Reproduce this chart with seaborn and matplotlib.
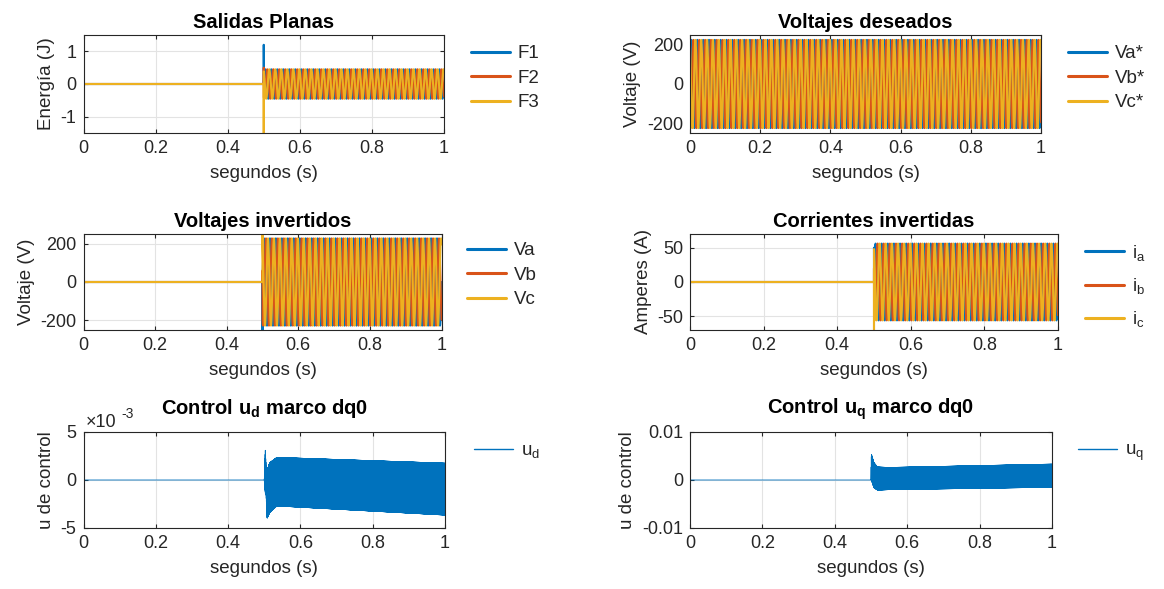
import numpy as np
import pandas as pd
import matplotlib
matplotlib.use("Agg")
import matplotlib.pyplot as plt
import seaborn as sns

# ---------------- simulation summary ----------------
FS = 20000            # samples per second
T_END = 1.0           # simulated time (s)
T_ON = 0.5            # inverter switched on (s)
F_GRID = 60.0         # grid frequency (Hz)
PHASES_DEG = [0.0, -120.0, 120.0]

# flat outputs
FLAT_NAMES = ["F1", "F2", "F3"]
FLAT_AMP = 0.45
FLAT_SPIKE = [1.2, 0.5, -1.5]

# reference voltages
VREF_NAMES = ["Va*", "Vb*", "Vc*"]
VREF_AMP = 225.0

# inverter voltages
VINV_NAMES = ["Va", "Vb", "Vc"]
VINV_AMP = 227.0
VINV_SPIKE = [-260.0, 60.0, 260.0]

# inverter currents
I_NAMES = [r"i$_a$", r"i$_b$", r"i$_c$"]
I_AMP = 56.0
I_SPIKE = [50.0, 20.0, -75.0]

# dq0 control signals: ripple envelope (time, upper, lower)
U_RIPPLE_HZ = 2500.0
UD_T = [0.500, 0.503, 0.505, 0.508, 0.515, 0.535, 1.000]
UD_TOP = [0.0, 3.2e-3, 1.4e-3, 1.0e-3, 1.8e-3, 2.35e-3, 1.75e-3]
UD_BOT = [0.0, -1.4e-3, -1.5e-3, -4.0e-3, -3.4e-3, -2.7e-3, -3.65e-3]
UQ_T = [0.500, 0.501, 0.508, 0.518, 0.550, 1.000]
UQ_TOP = [0.0, 5.4e-3, 3.6e-3, 2.7e-3, 2.6e-3, 3.3e-3]
UQ_BOT = [0.0, 0.0, -1.6e-3, -2.1e-3, -2.0e-3, -1.5e-3]

X_TICKS = [0, 0.2, 0.4, 0.6, 0.8, 1.0]
X_TICKLABELS = ["0", "0.2", "0.4", "0.6", "0.8", "1"]

BLUE, ORANGE, YELLOW = "#0072BD", "#D95319", "#EDB120"
INK = "#262626"

# ---------------- signals ----------------
t = np.arange(int(T_END * FS) + 1) / FS
i_on = int(np.argmax(t >= T_ON))


def three_phase(amp, spikes=None):
    out = []
    for k, ph in enumerate(PHASES_DEG):
        y = amp * np.sin(2 * np.pi * F_GRID * t + np.deg2rad(ph))
        if spikes is not None:
            y = np.where(t > T_ON, y, 0.0)
            y[i_on] = spikes[k]
        out.append(y)
    return out


def ripple(env_t, top, bot):
    hi = np.interp(t, env_t, top)
    lo = np.interp(t, env_t, bot)
    y = (hi + lo) / 2 + (hi - lo) / 2 * np.sin(2 * np.pi * U_RIPPLE_HZ * t)
    y[t < T_ON] = 0.0
    return y


def long_form(names, series):
    return pd.DataFrame({
        "t": np.tile(t, len(series)),
        "v": np.concatenate(series),
        "serie": np.repeat(names, len(t)),
    })


# ---------------- style ----------------
sns.set_theme(style="whitegrid", rc={
    "axes.edgecolor": INK,
    "axes.linewidth": 0.8,
    "grid.color": "#e3e3e3",
    "grid.linewidth": 0.8,
    "xtick.direction": "in",
    "ytick.direction": "in",
    "xtick.bottom": True,
    "ytick.left": True,
    "xtick.top": True,
    "ytick.right": True,
    "xtick.major.size": 3,
    "ytick.major.size": 3,
    "xtick.major.width": 0.8,
    "ytick.major.width": 0.8,
    "xtick.color": INK,
    "ytick.color": INK,
    "axes.labelcolor": INK,
    "text.color": INK,
})
plt.rcParams["font.family"] = ["Liberation Sans", "DejaVu Sans"]
plt.rcParams["axes.unicode_minus"] = False
plt.rcParams["mathtext.fontset"] = "custom"
plt.rcParams["mathtext.rm"] = "Liberation Sans"
plt.rcParams["mathtext.it"] = "Liberation Sans"
plt.rcParams["mathtext.bf"] = "Liberation Sans:bold"
plt.rcParams["mathtext.default"] = "regular"

FONT = 13
W, H = 1164, 589
fig = plt.figure(figsize=(W / 100, H / 100), dpi=100)


def add_axes(left, right, top, bottom):
    return fig.add_axes([left / W, 1 - bottom / H, (right - left) / W, (bottom - top) / H])


def decorate(ax, title, ylabel, ylim, yticks, yticklabels, title_pad=5):
    ax.set_xlim(0, 1)
    ax.set_ylim(*ylim)
    ax.set_xticks(X_TICKS)
    ax.set_xticklabels(X_TICKLABELS, fontsize=FONT)
    ax.set_yticks(yticks)
    ax.set_yticklabels(yticklabels, fontsize=FONT)
    ax.set_xlabel("segundos (s)", fontsize=FONT + 0.5, labelpad=6)
    ax.set_ylabel(ylabel, fontsize=FONT + 0.5, labelpad=4)
    ax.set_title(title, fontsize=14.5, fontweight="bold", color="black", pad=title_pad)
    ax.tick_params(axis="both", pad=5)
    for s in ax.spines.values():
        s.set_visible(True)
        s.set_color(INK)


def place_legend(ax, x_px, y_px, lw, spacing):
    leg = ax.get_legend()
    handles = leg.legend_handles
    labels = [tx.get_text() for tx in leg.texts]
    leg.remove()
    new = ax.legend(handles, labels, loc="upper left",
                    bbox_to_anchor=(x_px / W, 1 - y_px / H),
                    bbox_transform=fig.transFigure, frameon=False,
                    borderpad=0, borderaxespad=0, fontsize=FONT + 0.5,
                    handlelength=2.1, handletextpad=0.4,
                    labelspacing=spacing)
    for h in new.legend_handles:
        h.set_linewidth(lw)


def panel(ax, names, series, colors, lw):
    sns.lineplot(data=long_form(names, series), x="t", y="v", hue="serie",
                 hue_order=names, palette=colors, estimator=None, sort=False,
                 linewidth=lw, ax=ax, legend=True)


# Salidas planas
ax1 = add_axes(83.5, 444, 35, 133)
panel(ax1, FLAT_NAMES, three_phase(FLAT_AMP, FLAT_SPIKE), [BLUE, ORANGE, YELLOW], 1.5)
decorate(ax1, "Salidas Planas", "Energía (J)", (-1.5, 1.5), [-1, 0, 1], ["-1", "0", "1"])
place_legend(ax1, 471, 45, 2.2, 0.4)

# Voltajes deseados
ax2 = add_axes(690, 1041, 35, 133)
panel(ax2, VREF_NAMES, three_phase(VREF_AMP), [BLUE, ORANGE, YELLOW], 1.5)
decorate(ax2, "Voltajes deseados", "Voltaje (V)", (-250, 250), [-200, 0, 200], ["-200", "0", "200"])
place_legend(ax2, 1068, 45, 2.2, 0.4)

# Voltajes invertidos
ax3 = add_axes(83.5, 441.5, 234, 330)
panel(ax3, VINV_NAMES, three_phase(VINV_AMP, VINV_SPIKE), [BLUE, ORANGE, YELLOW], 1.5)
decorate(ax3, "Voltajes invertidos", "Voltaje (V)", (-250, 250), [-200, 0, 200], ["-200", "0", "200"])
place_legend(ax3, 467, 242, 2.2, 0.4)

# Corrientes invertidas
ax4 = add_axes(690, 1058, 234, 330)
panel(ax4, I_NAMES, three_phase(I_AMP, I_SPIKE), [BLUE, ORANGE, YELLOW], 1.5)
decorate(ax4, "Corrientes invertidas", "Amperes (A)", (-70, 70), [-50, 0, 50], ["-50", "0", "50"])
place_legend(ax4, 1085, 243, 2.2, 0.7)

# Control u_d
ax5 = add_axes(83.5, 445, 432, 528)
panel(ax5, [r"u$_d$"], [ripple(UD_T, UD_TOP, UD_BOT)], [BLUE], 0.6)
decorate(ax5, r"Control u$_{\mathbf{d}}$ marco dq0", "u de control", (-5e-3, 5e-3),
         [-5e-3, 0, 5e-3], ["-5", "0", "5"], title_pad=13)
ax5.text(0.005, 1.01, "×10", transform=ax5.transAxes, fontsize=FONT,
         ha="left", va="bottom", color=INK)
ax5.annotate("-3", xy=(0.005, 1.01), xycoords="axes fraction", xytext=(26, 7),
             textcoords="offset points", fontsize=10, ha="left", va="bottom", color=INK)
place_legend(ax5, 474, 442, 1.0, 0.3)

# Control u_q
ax6 = add_axes(690, 1052, 432, 528)
panel(ax6, [r"u$_q$"], [ripple(UQ_T, UQ_TOP, UQ_BOT)], [BLUE], 0.6)
decorate(ax6, r"Control u$_{\mathbf{q}}$ marco dq0", "u de control", (-0.01, 0.01),
         [-0.01, 0, 0.01], ["-0.01", "0", "0.01"], title_pad=13)
place_legend(ax6, 1078, 442, 1.0, 0.3)

fig.savefig("out.png", dpi=100, facecolor="white")
